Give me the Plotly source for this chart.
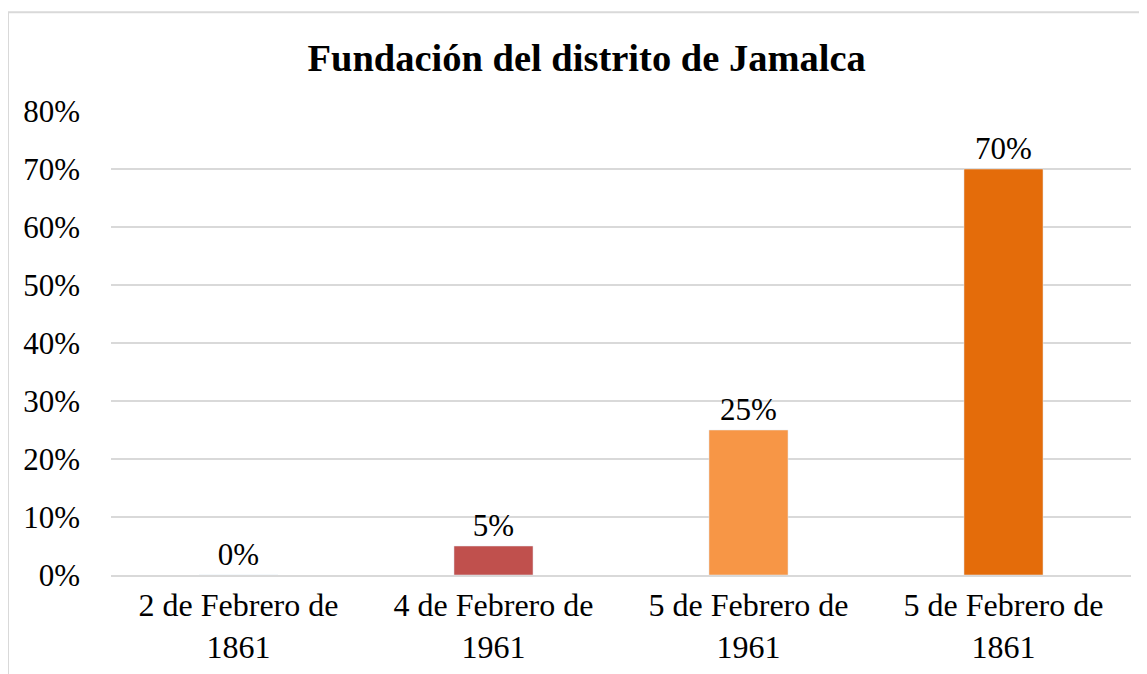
import plotly.graph_objects as go

categorias = ["2 de Febrero de<br>1861", "4 de Febrero de<br>1961",
              "5 de Febrero de<br>1961", "5 de Febrero de<br>1861"]
valores = [0.0, 0.05, 0.25, 0.70]
etiquetas = ["0%", "5%", "25%", "70%"]
colores = ["#C0504D", "#C0504D", "#F79646", "#E46C0A"]

fuente = "'Times New Roman', Tinos, 'Liberation Serif', 'DejaVu Serif', serif"

fig = go.Figure(go.Bar(
    x=categorias, y=valores, marker_color=colores,
    text=etiquetas, textposition="outside", cliponaxis=False,
    textfont=dict(family=fuente, size=31, color="#000000"),
    width=0.31,
))

fig.update_layout(
    width=1139, height=666,
    margin=dict(l=103, r=16, t=103, b=99),
    plot_bgcolor="white", paper_bgcolor="white",
    showlegend=False,
    font=dict(family=fuente, size=31, color="#000000"),
    title=dict(text="<b>Fundación del distrito de Jamalca</b>",
               x=0.508, xanchor="center", y=0.926, yanchor="middle",
               font=dict(family=fuente, size=38.5, color="#000000")),
)
fig.update_yaxes(range=[0, 0.8], dtick=0.1, tickformat=".0%",
                 gridcolor="#d9d9d9", gridwidth=2, zeroline=False,
                 showline=False, ticks="", ticklabelstandoff=30,
                 tickfont=dict(size=31), automargin=False)
fig.update_xaxes(showgrid=False, showline=True, linecolor="#d9d9d9",
                 linewidth=2, ticks="", ticklabelstandoff=1,
                 tickfont=dict(size=32), automargin=False)

# borde del área del gráfico
fig.add_shape(type="rect", xref="paper", yref="paper",
              x0=-0.101, x1=1.05, y0=-0.4, y1=1.213,
              line=dict(color="#d9d9d9", width=2), layer="below")

fig.write_html("out.html")
